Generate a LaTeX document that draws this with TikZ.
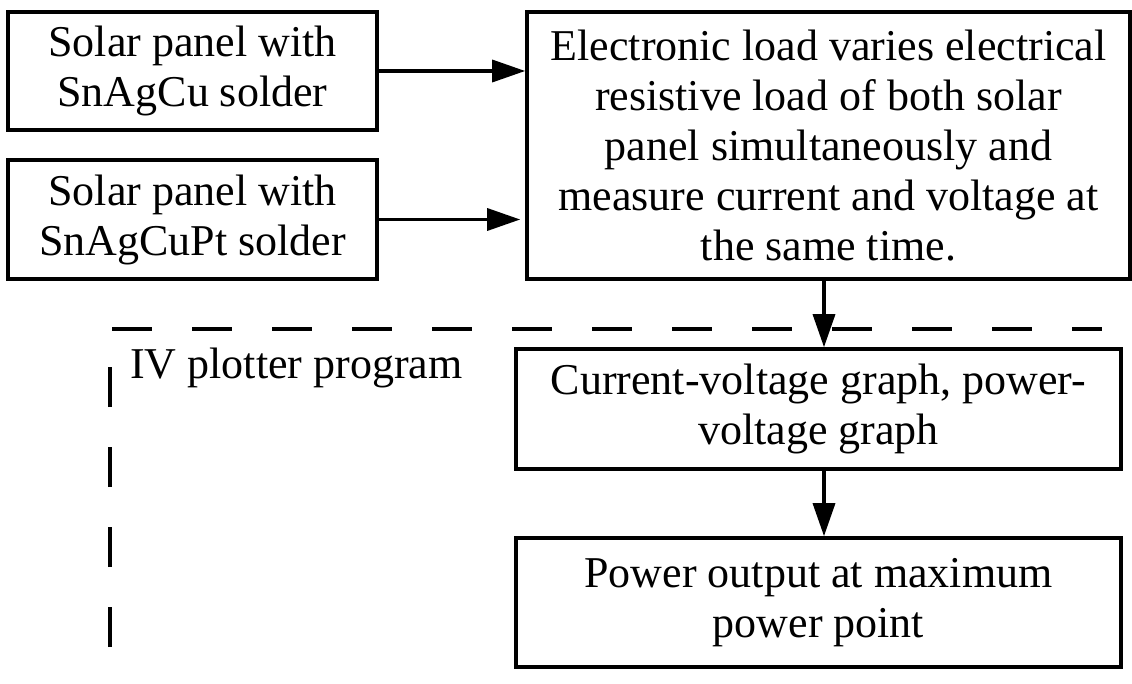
\documentclass[tikz,border=0pt]{standalone}
\usepackage{fontspec}
\setmainfont{Liberation Serif}
\usetikzlibrary{positioning,arrows.meta}

\begin{document}
\begin{tikzpicture}[
        x=1pt, y=-1pt,
        >={Triangle[length=33pt, width=22pt]}, % arrowhead style
        box/.style={draw, line width=3.6pt, align=center, inner sep=0pt,
            font=\fontsize{44}{50}\selectfont},
        arr/.style={->, line width=3.4pt},
    ]
        \useasboundingbox (0,0) rectangle (1132,684);

        % Nodes
        \node[box, minimum width=369pt, minimum height=118pt] (cu) at (192.5,71)
            {Solar panel with\\SnAgCu solder};
        \node[box, minimum width=369pt, minimum height=119pt] (cupt) at (192.5,219.5)
            {Solar panel with\\SnAgCuPt solder};
        \node[box, minimum width=603pt, minimum height=267pt] (load) at (828.5,145.5)
            {Electronic load varies electrical\\resistive load of both solar\\panel simultaneously and\\measure current and voltage at\\the same time.};
        \node[box, minimum width=605pt, minimum height=120pt] (graph) at (818.5,409)
            {Current-voltage graph, power-\\voltage graph};
        \node[box, minimum width=605pt, minimum height=129pt] (mpp) at (818.5,602.5)
            {Power output at maximum\\power point};
        \node[anchor=base west, inner sep=0pt, font=\fontsize{44}{50}\selectfont]
            (plotter) at (130,378) {IV plotter program};
        \coordinate (down) at (824,0);

        % Program region
        \draw[line width=3.6pt, dash pattern=on 40pt off 40pt]
            (110,647) -- (110,329) -- (1102,329);

        % Arrows
        \draw[arr] (cu.east) -- (cu.east -| load.west);
        \draw[arr] (cupt.east) -- ([xshift=-5pt]cupt.east -| load.west);
        \draw[arr] (load.south -| down) -- (graph.north -| down);
        \draw[arr] (graph.south -| down) -- (mpp.north -| down);

    \end{tikzpicture}
\end{document}
